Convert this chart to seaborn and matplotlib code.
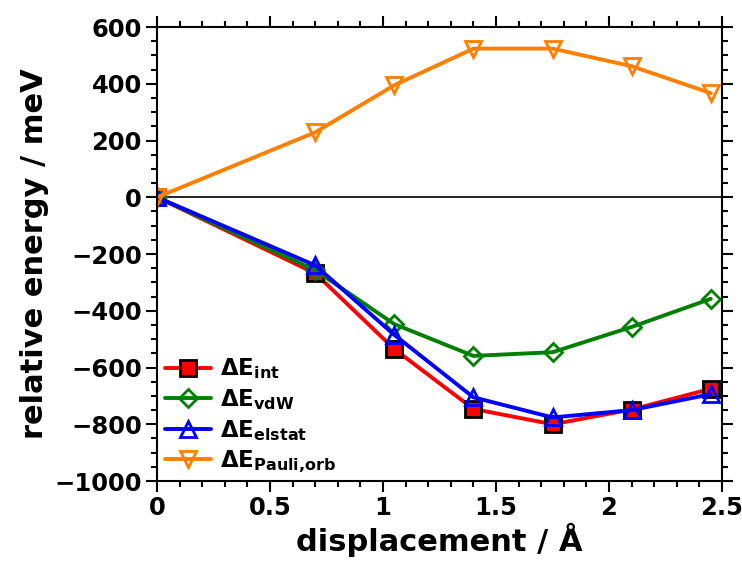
import matplotlib
matplotlib.use("Agg")
import matplotlib.pyplot as plt
from matplotlib.ticker import MultipleLocator
import seaborn as sns

sns.set_style("ticks")
plt.rcParams['font.family'] = ['DejaVu Sans']
plt.rcParams['font.weight'] = 'bold'
plt.rcParams['mathtext.default'] = 'bf'
plt.rcParams['text.color'] = 'black'
plt.rcParams['axes.labelcolor'] = 'black'
plt.rcParams['xtick.color'] = 'black'
plt.rcParams['ytick.color'] = 'black'

displacement = [0.0, 0.7, 1.05, 1.4, 1.75, 2.1, 2.45]
e_int = [0, -268, -535, -746, -800, -748, -675]
e_vdw = [0, -257, -447, -559, -546, -457, -358]
e_elstat = [0, -240, -485, -705, -776, -750, -694]
e_pauli = [0, 229, 395, 524, 524, 462, 367]

series = [
    (e_int, r'$\Delta E_{int}$', 'red', 's', 'red', 'black'),
    (e_vdw, r'$\Delta E_{vdW}$', 'green', 'D', 'none', 'green'),
    (e_elstat, r'$\Delta E_{elstat}$', 'blue', '^', 'none', 'blue'),
    (e_pauli, r'$\Delta E_{Pauli{,}orb}$', '#ff8000', 'v', 'none', '#ff8000'),
]

fig = plt.figure(figsize=(7.42, 5.63), dpi=100)
ax = fig.add_axes([0.2116, 0.1456, 0.7615, 0.8064])

ax.axhline(0, color='black', linewidth=1.2, zorder=1)

for vals, label, color, marker, face, edge in series:
    ms = 9 if marker == 'D' else 11
    sns.lineplot(x=displacement, y=vals, ax=ax, color=color, linewidth=2.8,
                 marker=marker, markersize=ms, markerfacecolor=face,
                 markeredgecolor=edge, markeredgewidth=2, label=label)

ax.set_xlim(0, 2.5)
ax.set_ylim(-1000, 600)
ax.xaxis.set_major_locator(MultipleLocator(0.5))
ax.xaxis.set_minor_locator(MultipleLocator(0.1))
ax.yaxis.set_major_locator(MultipleLocator(200))
ax.yaxis.set_minor_locator(MultipleLocator(50))
ax.set_xticks([0, 0.5, 1, 1.5, 2, 2.5])
ax.set_xticklabels(['0', '0.5', '1', '1.5', '2', '2.5'])

ax.tick_params(which='both', direction='out', top=True, right=True,
               labelsize=17.5, width=1.5, pad=3)
ax.tick_params(which='major', length=8)
ax.tick_params(which='minor', length=4)
for sp in ax.spines.values():
    sp.set_linewidth(1.5)
    sp.set_color('black')

ax.set_xlabel('displacement / Å', fontsize=22, fontweight='bold', labelpad=2)
ax.set_ylabel('relative energy / meV', fontsize=22, fontweight='bold', labelpad=4)

ax.legend(loc='lower left', frameon=False, fontsize=16.5, handlelength=2.0,
          handletextpad=0.4, labelspacing=0.25, borderaxespad=0.0,
          borderpad=0.35, bbox_to_anchor=(0.0, -0.005))

fig.savefig('out.png', dpi=100)
